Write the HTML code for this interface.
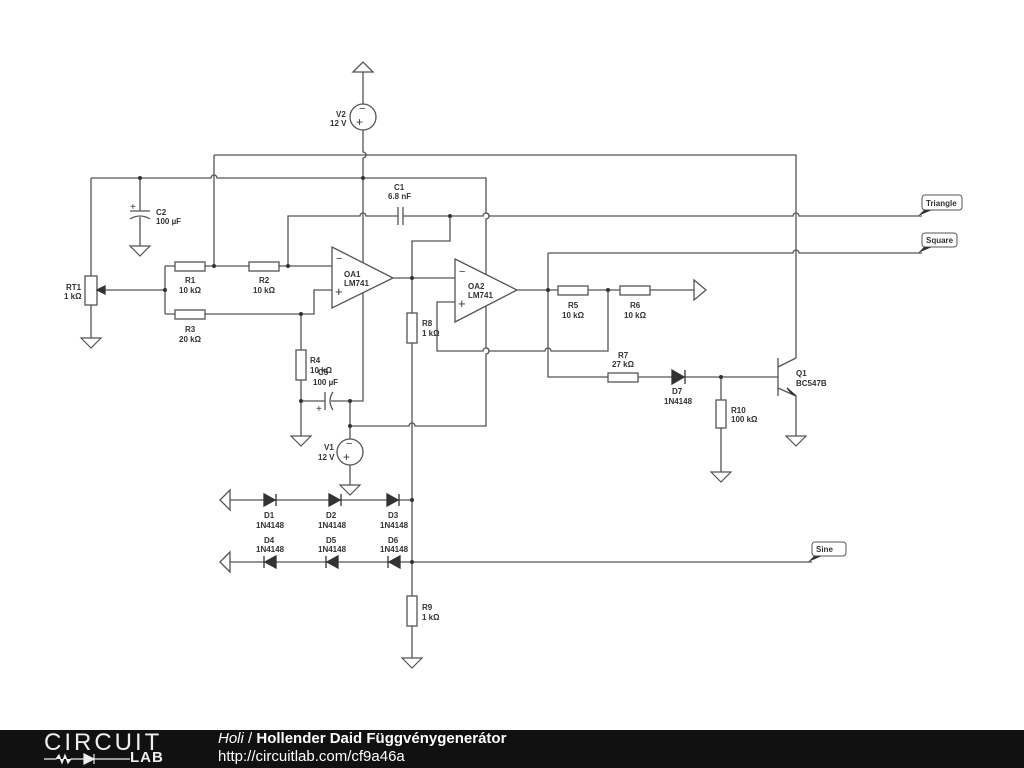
<!DOCTYPE html>
<html><head><meta charset="utf-8"><style>
body{margin:0;width:1024px;height:768px;background:#fff;overflow:hidden;font-family:"Liberation Sans",sans-serif}
svg{position:absolute;left:0;top:0}
.f{position:absolute;left:0;top:730px;width:1024px;height:38px;background:#111}
</style></head><body>
<svg width="1024" height="730" viewBox="0 0 1024 730">
<defs>
<g id="gnd"><path d="M-10,0 L10,0 L0,10 Z" fill="#fff" stroke="#555" stroke-width="1.2"/></g>
</defs>
<g stroke="#555" stroke-width="1.3" fill="none">
<path d="M353,72 L373,72 L363,62 Z" fill="#fff"/>
<path d="M363,72 V104 M363,130 V152 a3,3 0 0 1 0,6 V401 H350"/>
<circle cx="363" cy="117" r="13" fill="#fff"/>
<path d="M214,155 H796 V358"/>
<path d="M91,178 H211 a3,3 0 0 1 6,0 H486 V213 a3,3 0 0 1 0,6 V348 a3,3 0 0 1 0,6 V426 H415 a3,3 0 0 0 -6,0 H350"/>
<path d="M91,178 V276 M91,305 V338"/>
<rect x="85" y="276" width="12" height="29" fill="#fff"/>
<path d="M165,290 H100"/>
<path d="M140,178 V211 M140,217 V246 M130,211 H150 M130,219 Q140,213 150,219"/>
<path d="M214,155 V266 M165,266 V314 M165,266 H175 M205,266 H249 M279,266 H332 M288,266 V216 H360 a3,3 0 0 1 6,0 H398 M403,216 H483 a3,3 0 0 1 6,0 H793 a3,3 0 0 1 6,0 H922"/>
<path d="M398,207 V225 M403,207 V225"/>
<rect x="175" y="262" width="30" height="9" fill="#fff"/>
<rect x="249" y="262" width="30" height="9" fill="#fff"/>
<path d="M165,314 H175 M205,314 H314 V290 H332"/>
<rect x="175" y="310" width="30" height="9" fill="#fff"/>
<path d="M301,314 V350 M301,380 V436 M301,401 H325 M331,401 H350 V426"/>
<rect x="296" y="350" width="10" height="30" fill="#fff"/>
<path d="M325,392 V410 M333,392 Q327,401 333,410"/>
<path d="M332,247 L393,278 L332,308 Z" fill="#fff"/>
<path d="M393,278 H455 M412,278 V241 H450 V216 M412,278 V313 M412,343 V596 M412,626 V658"/>
<rect x="407" y="313" width="10" height="30" fill="#fff"/>
<rect x="407" y="596" width="10" height="30" fill="#fff"/>
<path d="M455,259 L517,290 L455,322 Z" fill="#fff"/>
<path d="M455,302 H437 V351 H483 a3,3 0 0 1 6,0 H545 a3,3 0 0 1 6,0 H608 V290"/>
<path d="M517,290 H558 M588,290 H620 M650,290 H694"/>
<path d="M694,280 L706,290 L694,300 Z" fill="#fff"/>
<rect x="558" y="286" width="30" height="9" fill="#fff"/>
<rect x="620" y="286" width="30" height="9" fill="#fff"/>
<path d="M548,253 V377 H608 M638,377 H672 M685,377 H778 M548,253 H793 a3,3 0 0 1 6,0 H922"/>
<rect x="608" y="373" width="30" height="9" fill="#fff"/>
<path d="M721,377 V400 M721,428 V472"/>
<rect x="716" y="400" width="10" height="28" fill="#fff"/>
<path d="M778,358 V396 M778,367 L796,358 M778,388 L796,396 V436"/>
<path d="M350,426 V439 M350,465 V485"/>
<circle cx="350" cy="452" r="13" fill="#fff"/>
<path d="M230,500 H412 M230,562 H812"/>
<path d="M230,490 L220,500 L230,510 Z" fill="#fff"/>
<path d="M230,552 L220,562 L230,572 Z" fill="#fff"/>
</g>
<g fill="#333" stroke="#333" stroke-width="1.3">
<path d="M672,370 L684,377 L672,384 Z M685,370 V384"/>
<path d="M264,494 L275,500 L264,506 Z M276,494 V506"/>
<path d="M329,494 L340,500 L329,506 Z M341,494 V506"/>
<path d="M387,494 L398,500 L387,506 Z M399,494 V506"/>
<path d="M276,556 L265,562 L276,568 Z M264,556 V568"/>
<path d="M338,556 L327,562 L338,568 Z M326,556 V568"/>
<path d="M400,556 L389,562 L400,568 Z M388,556 V568"/>
<path d="M97,290 L105,286 L105,294 Z"/>
<path d="M796,396 L787,388 L791,393 Z"/>
</g>
<g fill="#333">
<circle cx="140" cy="178" r="2"/><circle cx="363" cy="178" r="2"/><circle cx="214" cy="266" r="2"/><circle cx="288" cy="266" r="2"/><circle cx="165" cy="290" r="2"/><circle cx="301" cy="314" r="2"/><circle cx="301" cy="401" r="2"/><circle cx="350" cy="401" r="2"/><circle cx="350" cy="426" r="2"/><circle cx="450" cy="216" r="2"/><circle cx="412" cy="278" r="2"/><circle cx="548" cy="290" r="2"/><circle cx="608" cy="290" r="2"/><circle cx="721" cy="377" r="2"/><circle cx="412" cy="500" r="2"/><circle cx="412" cy="562" r="2"/>
</g>
<g>
<use href="#gnd" x="140" y="246"/><use href="#gnd" x="91" y="338"/><use href="#gnd" x="301" y="436"/><use href="#gnd" x="350" y="485"/><use href="#gnd" x="412" y="658"/><use href="#gnd" x="721" y="472"/><use href="#gnd" x="796" y="436"/>
</g>
<g font-size="8" font-weight="bold" fill="#333" font-family="Liberation Sans,sans-serif">
<text x="359" y="112" font-size="11" font-weight="normal">−</text><text x="356" y="126" font-size="12" font-weight="normal">+</text>
<text x="346" y="447" font-size="11" font-weight="normal">−</text><text x="343" y="461" font-size="12" font-weight="normal">+</text>
<text x="336" y="117">V2</text><text x="330" y="126">12 V</text>
<text x="324" y="450">V1</text><text x="318" y="460">12 V</text>
<text x="130" y="210" font-weight="normal" font-size="10">+</text>
<text x="156" y="215">C2</text><text x="156" y="224">100 µF</text>
<text x="66" y="290">RT1</text><text x="64" y="299">1 kΩ</text>
<text x="185" y="283">R1</text><text x="179" y="293">10 kΩ</text>
<text x="259" y="283">R2</text><text x="253" y="293">10 kΩ</text>
<text x="185" y="332">R3</text><text x="179" y="342">20 kΩ</text>
<text x="310" y="363">R4</text><text x="310" y="373">10 kΩ</text>
<text x="318" y="375">C5</text><text x="313" y="385">100 µF</text>
<text x="316" y="412" font-weight="normal" font-size="10">+</text>
<text x="394" y="190">C1</text><text x="388" y="199">6.8 nF</text>
<text x="336" y="262" font-weight="normal" font-size="11">−</text><text x="335" y="296" font-weight="normal" font-size="13">+</text>
<text x="344" y="277">OA1</text><text x="344" y="286">LM741</text>
<text x="459" y="275" font-weight="normal" font-size="11">−</text><text x="458" y="308" font-weight="normal" font-size="13">+</text>
<text x="468" y="289">OA2</text><text x="468" y="298">LM741</text>
<text x="422" y="326">R8</text><text x="422" y="336">1 kΩ</text>
<text x="568" y="308">R5</text><text x="562" y="318">10 kΩ</text>
<text x="630" y="308">R6</text><text x="624" y="318">10 kΩ</text>
<text x="618" y="358">R7</text><text x="612" y="367">27 kΩ</text>
<text x="672" y="394">D7</text><text x="664" y="404">1N4148</text>
<text x="731" y="413">R10</text><text x="731" y="422">100 kΩ</text>
<text x="796" y="376">Q1</text><text x="796" y="386">BC547B</text>
<text x="264" y="518">D1</text><text x="256" y="528">1N4148</text>
<text x="326" y="518">D2</text><text x="318" y="528">1N4148</text>
<text x="388" y="518">D3</text><text x="380" y="528">1N4148</text>
<text x="264" y="543">D4</text><text x="256" y="552">1N4148</text>
<text x="326" y="543">D5</text><text x="318" y="552">1N4148</text>
<text x="388" y="543">D6</text><text x="380" y="552">1N4148</text>
<text x="422" y="610">R9</text><text x="422" y="620">1 kΩ</text>
</g>
<g stroke="#555" stroke-width="1" fill="#fff">
<rect x="922" y="195" width="40" height="15" rx="3"/>
<rect x="922" y="233" width="35" height="14" rx="3"/>
<rect x="812" y="542" width="34" height="14" rx="3"/>
</g>
<g fill="#333">
<path d="M918,216 L932,210 L924,210 Z"/><path d="M918,253 L932,247 L924,247 Z"/><path d="M808,562 L822,556 L814,556 Z"/>
</g>
<g font-size="8" font-weight="bold" fill="#333" font-family="Liberation Sans,sans-serif">
<text x="926" y="206">Triangle</text><text x="926" y="243">Square</text><text x="816" y="552">Sine</text>
</g>
</svg>
<div class="f">
<div style="position:absolute;left:44px;top:1px;color:#eee;font-size:24px;letter-spacing:3px;line-height:24px">CIRCUIT</div>
<svg width="90" height="12" style="position:absolute;left:44px;top:22px;top:23px" viewBox="0 0 90 12"><path d="M0,6 H12 L15,2 L18,10 L21,2 L24,10 L27,6 H40 M40,1 V11 L50,6 Z M50,1 V11 M50,6 H86" stroke="#eee" stroke-width="1.2" fill="#eee"/></svg>
<div style="position:absolute;left:130px;top:20px;color:#eee;font-size:15px;font-weight:bold;line-height:16px;letter-spacing:1px">LAB</div>
<div style="position:absolute;left:218px;top:0px;color:#fff;font-size:15px;line-height:18px"><i>Holi</i> / <b>Hollender Daid Függvénygenerátor</b></div>
<div style="position:absolute;left:218px;top:18px;color:#fff;font-size:15px;line-height:18px">http://circuitlab.com/cf9a46a</div>
</div>
</body></html>
